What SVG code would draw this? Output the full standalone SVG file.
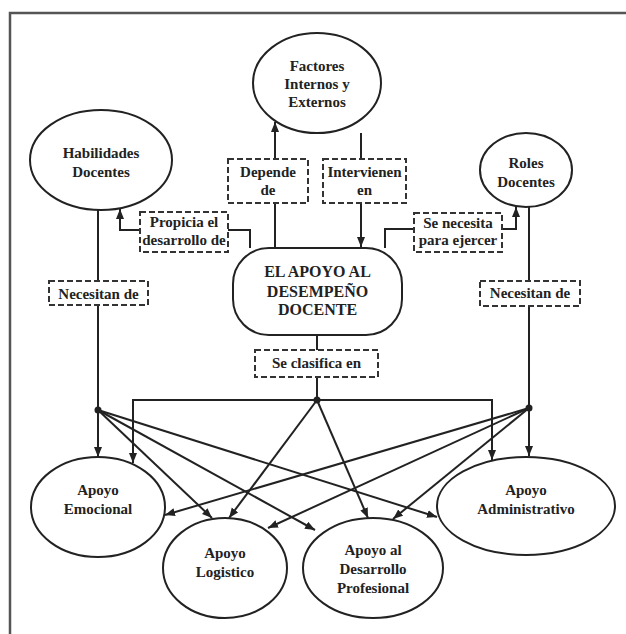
<svg xmlns="http://www.w3.org/2000/svg" width="626" height="634" viewBox="0 0 626 634">
<defs>
<marker id="ah" markerUnits="userSpaceOnUse" markerWidth="11" markerHeight="9" refX="10" refY="4" orient="auto">
<path d="M0,0 L10,4 L0,8 z" fill="#222"/>
</marker>
<style>
.n{fill:#fff;stroke:#222;stroke-width:2}
.d{fill:#fff;stroke:#333;stroke-width:2;stroke-dasharray:6 3}
.c{fill:none;stroke:#222;stroke-width:2}
.a{fill:none;stroke:#222;stroke-width:2;marker-end:url(#ah)}
text{font-family:"Liberation Serif","Times New Roman",serif;font-size:15px;font-weight:bold;fill:#222;text-anchor:middle}
.t16{font-size:16px}
</style>
</defs>
<rect width="626" height="634" fill="#fff"/>
<path d="M10,634 V13 H626" fill="none" stroke="#555" stroke-width="2.5"/>

<g id="connectors">
<path class="c" d="M275,248 V203"/>
<path class="a" d="M275,159 V122"/>
<path class="c" d="M361,133 V159"/>
<path class="a" d="M361,203 V247"/>
<path class="c" d="M250,248 V230 H228"/>
<path class="a" d="M140,230 H120 V209"/>
<path class="c" d="M385,248 V229 H414"/>
<path class="a" d="M502,229 H516 V207"/>
<path class="c" d="M98,210 V281"/>
<path class="c" d="M98,305 V410"/>
<path class="a" d="M98,410 V457"/>
<path class="c" d="M529,207 V281"/>
<path class="c" d="M529,306 V408"/>
<path class="a" d="M529,408 V456"/>
<path class="c" d="M317,335 V350"/>
<path class="c" d="M317,377 V400"/>
<path class="a" d="M317,400 H133 V463"/>
<path class="a" d="M317,400 H492 V460"/>
<path class="a" d="M98,410 L212,518"/>
<path class="a" d="M98,410 L315,530"/>
<path class="a" d="M98,410 L437,517"/>
<path class="a" d="M317,400 L229,518"/>
<path class="a" d="M317,400 L368,518"/>
<path class="a" d="M529,408 L165,515"/>
<path class="a" d="M529,408 L268,528"/>
<path class="a" d="M529,408 L393,519"/>
<circle cx="98" cy="410" r="3.5" fill="#222"/>
<circle cx="317" cy="400" r="3.5" fill="#222"/>
<circle cx="529" cy="408" r="3.5" fill="#222"/>
</g>

<g id="factores">
<ellipse class="n" cx="317" cy="83" rx="64" ry="50"/>
<text x="317" y="71">Factores</text>
<text x="317" y="89">Internos y</text>
<text x="317" y="107">Externos</text>
</g>
<g id="habilidades">
<ellipse class="n" cx="101" cy="160" rx="71" ry="50"/>
<text x="101" y="158">Habilidades</text>
<text x="101" y="177">Docentes</text>
</g>
<g id="roles">
<ellipse class="n" cx="526" cy="170" rx="46" ry="37"/>
<text x="526" y="168">Roles</text>
<text x="526" y="187">Docentes</text>
</g>
<g id="depende">
<rect class="d" x="228" y="159" width="80" height="44"/>
<text x="268" y="177">Depende</text>
<text x="268" y="195">de</text>
</g>
<g id="intervienen">
<rect class="d" x="323" y="159" width="83" height="44"/>
<text x="364.5" y="177">Intervienen</text>
<text x="364.5" y="195">en</text>
</g>
<g id="propicia">
<rect class="d" x="140" y="212" width="88" height="40"/>
<text x="184" y="227">Propicia el</text>
<text x="184" y="245">desarrollo de</text>
</g>
<g id="senecesita">
<rect class="d" x="414" y="213" width="88" height="39"/>
<text x="458" y="228">Se necesita</text>
<text x="458" y="245">para ejercer</text>
</g>
<g id="necesitan-izq">
<rect class="d" x="49" y="281" width="99" height="24"/>
<text x="98.5" y="299">Necesitan de</text>
</g>
<g id="necesitan-der">
<rect class="d" x="480" y="281" width="100" height="25"/>
<text x="530" y="298">Necesitan de</text>
</g>
<g id="apoyo-desempeno">
<rect class="n" x="233" y="248" width="169" height="87" rx="36"/>
<text class="t16" x="317.5" y="277">EL APOYO AL</text>
<text class="t16" x="317.5" y="297">DESEMPEÑO</text>
<text class="t16" x="317.5" y="315">DOCENTE</text>
</g>
<g id="seclasifica">
<rect class="d" x="255" y="350" width="123" height="27"/>
<text x="316.5" y="368">Se clasifica en</text>
</g>
<g id="emocional">
<ellipse class="n" cx="98" cy="507" rx="67" ry="50"/>
<text x="98" y="495">Apoyo</text>
<text x="98" y="514">Emocional</text>
</g>
<g id="logistico">
<ellipse class="n" cx="225" cy="568" rx="62" ry="50"/>
<text x="225" y="558">Apoyo</text>
<text x="225" y="577">Logistico</text>
</g>
<g id="desarrollo">
<ellipse class="n" cx="373" cy="568" rx="70" ry="50"/>
<text x="373" y="555">Apoyo al</text>
<text x="373" y="574">Desarrollo</text>
<text x="373" y="593">Profesional</text>
</g>
<g id="administrativo">
<ellipse class="n" cx="526" cy="506" rx="89" ry="49"/>
<text x="526" y="495">Apoyo</text>
<text x="526" y="514">Administrativo</text>
</g>
</svg>
